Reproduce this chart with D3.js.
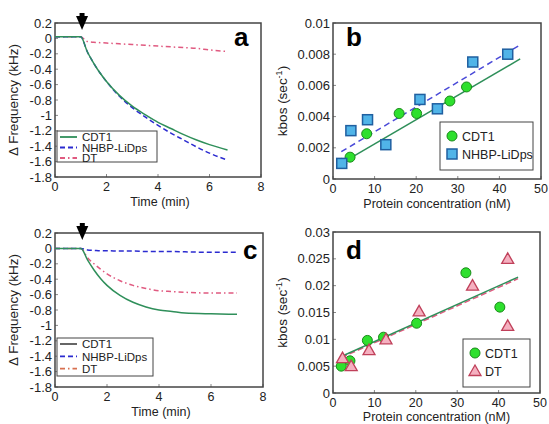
<!DOCTYPE html>
<html><head><meta charset="utf-8">
<script src="https://cdn.jsdelivr.net/npm/d3@7/dist/d3.min.js"></script>
<style>body{margin:0;background:#fff}svg{display:block}text{font-family:"Liberation Sans",Arial,sans-serif}</style>
</head><body>
<svg id="c" width="549" height="424"></svg>
<script>
// ---------- DATA ----------
// Panel a (time course)
const timeA = [0, 1, 1.25, 1.5, 1.75, 2, 2.5, 3, 3.5, 4, 4.5, 5, 5.5, 6, 6.7];
const aCDT1 = [0.02, 0.02, -0.17, -0.32, -0.45, -0.56, -0.74, -0.88, -0.99, -1.09, -1.17, -1.25, -1.32, -1.38, -1.45];
const aNHBP = [0.02, 0.02, -0.17, -0.32, -0.45, -0.56, -0.75, -0.9, -1.02, -1.13, -1.23, -1.32, -1.41, -1.49, -1.58];
const aDT   = [0.02, 0.02, -0.04, -0.05, -0.055, -0.06, -0.07, -0.08, -0.09, -0.1, -0.11, -0.12, -0.13, -0.15, -0.17];
// Panel c (time course)
const timeC = [0, 1, 1.25, 1.5, 1.75, 2, 2.5, 3, 3.5, 4, 4.5, 5, 6, 7];
const cCDT1 = [0, 0, -0.15, -0.28, -0.39, -0.48, -0.61, -0.7, -0.76, -0.8, -0.82, -0.84, -0.85, -0.855];
const cNHBP = [0, 0, -0.02, -0.025, -0.03, -0.03, -0.035, -0.035, -0.04, -0.04, -0.04, -0.045, -0.05, -0.05];
const cDT   = [0, 0, -0.12, -0.2, -0.27, -0.33, -0.42, -0.48, -0.52, -0.55, -0.56, -0.57, -0.58, -0.58];
const injectionTime = 1.05;
const timeTicks = [0, 2, 4, 6, 8];
const freqTicks = [0.2, 0, -0.2, -0.4, -0.6, -0.8, -1, -1.2, -1.4, -1.6, -1.8];
const freqTickLabels = ["0.2", "0", "-0.2", "-0.4", "-0.6", "-0.8", "-1", "-1.2", "-1.4", "-1.6", "-1.8"];
// Panel b (kbos vs concentration)
const bCDT1Conc = [2.1, 4.1, 8.1, 15.9, 20.1, 28.1, 32.1];
const bCDT1K    = [0.001, 0.0014, 0.0029, 0.0042, 0.0042, 0.005, 0.0059];
const bNHBPConc = [2.1, 4.3, 8.3, 12.7, 20.9, 25.1, 33.6, 42];
const bNHBPK    = [0.001, 0.0031, 0.0038, 0.0022, 0.0051, 0.0045, 0.0075, 0.008];
const bFitConc  = [2, 45];
const bFitCDT1  = [0.001, 0.0077];
const bFitNHBP  = [0.00175, 0.0086];
const bTicksY = [0, 0.002, 0.004, 0.006, 0.008, 0.01];
const bTickLabelsY = ["0", "0.002", "0.004", "0.006", "0.008", "0.01"];
// Panel d
const dCDT1Conc = [2.0, 4.1, 8.3, 12.2, 20.2, 32.1, 40.3];
const dCDT1K    = [0.005, 0.006, 0.0098, 0.0104, 0.013, 0.0224, 0.016];
const dDTConc   = [2.3, 4.4, 8.7, 12.8, 20.8, 33.7, 42.2, 42.2];
const dDTK      = [0.0065, 0.005, 0.008, 0.01, 0.0152, 0.02, 0.025, 0.0125];
const dFitConc  = [2, 44.7];
const dFitCDT1  = [0.0068, 0.0216];
const dFitDT    = [0.0066, 0.0213];
const dTicksY = [0, 0.005, 0.01, 0.015, 0.02, 0.025, 0.03];
const dTickLabelsY = ["0", "0.005", "0.01", "0.015", "0.02", "0.025", "0.03"];
const concTicks = [0, 10, 20, 30, 40, 50];

// ---------- STYLE ----------
const COL = {cdt1: "#2f8f5a", nhbp: "#2b2bd0", dt: "#e05a80", frame: "#444", text: "#222",
             circFill: "#2ee02e", circStroke: "#1a8a1a", sqFill: "#50b4e8", sqStroke: "#1f5fa0",
             triFill: "#f5b0c0", triStroke: "#c0405a"};
const svg = d3.select("#c");

function frame(g, x, y, ticksX, ticksY, labelsY) {
  const [x0, x1] = x.range(), [y0, y1] = y.range();
  ticksX.forEach(t => {
    g.append("line").attr("x1", x(t)).attr("x2", x(t)).attr("y1", y0).attr("y2", y0 - 3).attr("stroke", "#888");
    g.append("text").attr("x", x(t)).attr("y", y0 + 14).attr("text-anchor", "middle")
      .attr("font-size", 12.5).attr("fill", COL.text).text(t);
  });
  ticksY.forEach((t, i) => {
    g.append("line").attr("x1", x0).attr("x2", x0 + 3).attr("y1", y(t)).attr("y2", y(t)).attr("stroke", "#888");
    g.append("text").attr("x", x0 - 3).attr("y", y(t) + 4.5).attr("text-anchor", "end")
      .attr("font-size", 13).attr("fill", COL.text).text(labelsY[i]);
  });
  g.append("rect").attr("x", x0).attr("y", y1).attr("width", x1 - x0).attr("height", y0 - y1)
    .attr("fill", "none").attr("stroke", COL.frame).attr("stroke-width", 1.5);
}

function panelLabel(txt, px, py) {
  svg.append("text").attr("x", px).attr("y", py).attr("font-size", 26).attr("font-weight", "bold")
    .attr("fill", "#000").text(txt);
}

function timePanel(box, times, s1, s2, s3, label, labPos, yTitle, legBox, legCols) {
  const x = d3.scaleLinear().domain([0, 8]).range([box.l, box.r]);
  const y = d3.scaleLinear().domain([-1.8, 0.2]).range([box.b, box.t]);
  const g = svg.append("g");
  frame(g, x, y, timeTicks, freqTicks, freqTickLabels);
  const line = d3.line().x(d => x(d[0])).y(d => y(d[1])).curve(d3.curveMonotoneX);
  const series = [
    {v: s3, c: COL.dt, dash: "5,3,1.5,3"},
    {v: s2, c: COL.nhbp, dash: "5,3"},
    {v: s1, c: COL.cdt1, dash: null}];
  series.forEach(s => {
    g.append("path").attr("d", line(times.map((t, i) => [t, s.v[i]])))
      .attr("fill", "none").attr("stroke", s.c).attr("stroke-width", 1.5)
      .attr("stroke-dasharray", s.dash);
  });
  const ax = x(injectionTime);
  g.append("rect").attr("x", ax - 2.5).attr("y", box.t - 10).attr("width", 5).attr("height", 4).attr("fill", "#000");
  g.append("path").attr("d", `M${ax - 6},${box.t - 7} L${ax + 6},${box.t - 7} L${ax},${box.t + 7} Z`).attr("fill", "#000");
  panelLabel(label, labPos[0], labPos[1]);
  svg.append("text").attr("x", (box.l + box.r) / 2 + 2).attr("y", box.b + 28.5).attr("text-anchor", "middle")
    .attr("font-size", 12.5).attr("fill", COL.text).text("Time (min)");
  svg.append("text").attr("transform", `translate(18,${(box.t + box.b) / 2}) rotate(-90)`)
    .attr("text-anchor", "middle").attr("font-size", 13.5).attr("fill", COL.text).text(yTitle);
  g.append("rect").attr("x", legBox.x).attr("y", legBox.y).attr("width", legBox.w).attr("height", legBox.h)
    .attr("fill", "#fff").attr("stroke", COL.frame).attr("stroke-width", 1);
  const names = ["CDT1", "NHBP-LiDps", "DT"];
  const legSeries = [series[2], series[1], series[0]];
  names.forEach((n, i) => {
    const ly = legBox.y + 6 + i * legBox.step;
    g.append("line").attr("x1", legBox.x + 3).attr("x2", legBox.x + 20).attr("y1", ly).attr("y2", ly)
      .attr("stroke", legCols ? legCols[i] : legSeries[i].c).attr("stroke-width", 1.8)
      .attr("stroke-dasharray", legSeries[i].dash);
    g.append("text").attr("x", legBox.x + 25).attr("y", ly + 4.3).attr("font-size", legBox.fs)
      .attr("fill", COL.text).text(n);
  });
}

function symbol(g, type, cx, cy, fill, stroke) {
  if (type === "circle") {
    g.append("circle").attr("cx", cx).attr("cy", cy).attr("r", 5).attr("fill", fill).attr("stroke", stroke).attr("stroke-width", 1);
  } else if (type === "square") {
    g.append("rect").attr("x", cx - 5).attr("y", cy - 5).attr("width", 10).attr("height", 10)
      .attr("fill", fill).attr("stroke", stroke).attr("stroke-width", 1.5);
  } else {
    g.append("path").attr("d", `M${cx},${cy - 6} L${cx + 6},${cy + 4.5} L${cx - 6},${cy + 4.5} Z`)
      .attr("fill", fill).attr("stroke", stroke).attr("stroke-width", 1.3);
  }
}

function kPanel(box, yMax, ticksY, labelsY, sets, fits, fitConc, label, labPos, legBox, titleDy) {
  const x = d3.scaleLinear().domain([0, 50]).range([box.l, box.r]);
  const y = d3.scaleLinear().domain([0, yMax]).range([box.b, box.t]);
  const g = svg.append("g");
  frame(g, x, y, concTicks, ticksY, labelsY);
  fits.forEach(f => {
    g.append("line").attr("x1", x(fitConc[0])).attr("x2", x(fitConc[1]))
      .attr("y1", y(f.v[0])).attr("y2", y(f.v[1]))
      .attr("stroke", f.c).attr("stroke-width", 1.5).attr("stroke-dasharray", f.dash);
  });
  sets.forEach(s => {
    s.x.forEach((cx, i) => symbol(g, s.type, x(cx), y(s.y[i]), s.fill, s.stroke));
  });
  panelLabel(label, labPos[0], labPos[1]);
  svg.append("text").attr("x", (box.l + box.r) / 2).attr("y", box.b + titleDy).attr("text-anchor", "middle")
    .attr("font-size", 12.5).attr("fill", COL.text).text("Protein concentration (nM)");
  const yt = svg.append("text").attr("transform", `translate(${box.l - 46},${(box.t + box.b) / 2}) rotate(-90)`)
    .attr("text-anchor", "middle").attr("font-size", 13.5).attr("fill", COL.text);
  yt.append("tspan").text("kbos (sec");
  yt.append("tspan").attr("font-size", 9).attr("dy", -5).text("-1");
  yt.append("tspan").attr("dy", 5).text(")");
  g.append("rect").attr("x", legBox.x).attr("y", legBox.y).attr("width", legBox.w).attr("height", legBox.h)
    .attr("fill", "#fff").attr("stroke", COL.frame).attr("stroke-width", 1);
  sets.forEach((s, i) => {
    const ly = legBox.y + 14 + i * 18;
    symbol(g, s.type, legBox.x + 12, ly, s.fill, s.stroke);
    g.append("text").attr("x", legBox.x + 22).attr("y", ly + 4.5).attr("font-size", 12.5)
      .attr("fill", COL.text).text(s.name);
  });
}

timePanel({l: 55, r: 261, t: 23, b: 177}, timeA, aCDT1, aNHBP, aDT, "a", [234, 46],
  "\u0394 Frequency (kHz)", {x: 57, y: 131, w: 100, h: 31, step: 10.5, fs: 11.5}, null);
timePanel({l: 55, r: 263, t: 233, b: 387}, timeC, cCDT1, cNHBP, cDT, "c", [243, 259],
  "\u0394 Frequency  (kHz)", {x: 57, y: 338, w: 96, h: 38, step: 12.3, fs: 11.5}, ["#555", COL.nhbp, "#d87050"]);

kPanel({l: 333, r: 541, t: 23, b: 179}, 0.01, bTicksY, bTickLabelsY,
  [{type: "circle", x: bCDT1Conc, y: bCDT1K, fill: COL.circFill, stroke: COL.circStroke, name: "CDT1"},
   {type: "square", x: bNHBPConc, y: bNHBPK, fill: COL.sqFill, stroke: COL.sqStroke, name: "NHBP-LiDps"}],
  [{v: bFitCDT1, c: COL.cdt1, dash: null}, {v: bFitNHBP, c: "#4a4ad8", dash: "6,4"}],
  bFitConc, "b", [346, 46], {x: 440, y: 122, w: 93, h: 48}, 28.5);

kPanel({l: 333, r: 540, t: 232, b: 393}, 0.03, dTicksY, dTickLabelsY,
  [{type: "circle", x: dCDT1Conc, y: dCDT1K, fill: COL.circFill, stroke: COL.circStroke, name: "CDT1"},
   {type: "triangle", x: dDTConc, y: dDTK, fill: COL.triFill, stroke: COL.triStroke, name: "DT"}],
  [{v: dFitDT, c: COL.dt, dash: "6,3"}, {v: dFitCDT1, c: COL.cdt1, dash: null}],
  dFitConc, "d", [346, 259], {x: 463, y: 339, w: 67, h: 48}, 28);
</script>
</body></html>
